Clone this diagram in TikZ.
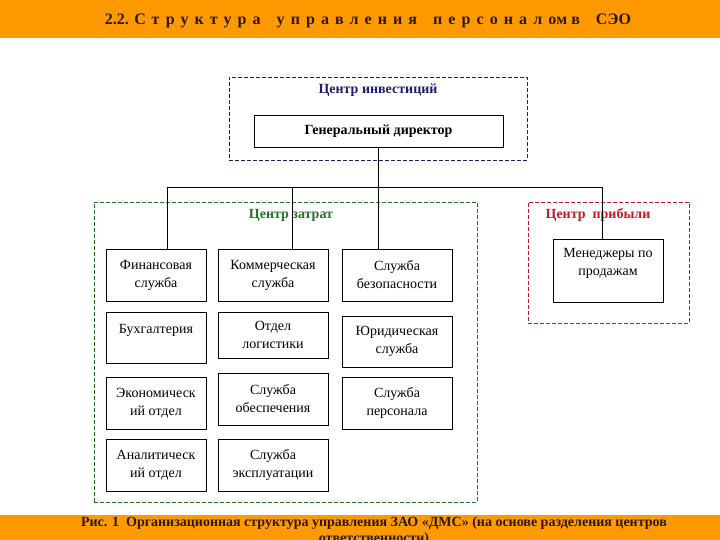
\documentclass[tikz,border=0pt]{standalone}
\usepackage{fontspec}
\setmainfont{Liberation Serif}
\definecolor{banner}{RGB}{255, 153, 0}
\definecolor{bannertext}{RGB}{45, 25, 5}
\definecolor{invest}{RGB}{30, 30, 110}
\definecolor{cost}{RGB}{35, 115, 35}
\definecolor{profit}{RGB}{200, 25, 35}
\usetikzlibrary{positioning, calc}

\begin{document}
\begin{tikzpicture}[x=1pt, y=-1pt, every node/.style={font=\fontsize{14}{18}\selectfont},
    unit/.style={draw, line width=0.8pt, align=center, inner sep=0pt},
    frame/.style={draw, line width=0.8pt, dash pattern=on 4pt off 2pt, inner sep=0pt},
    head/.style={font=\fontsize{14}{16}\selectfont\bfseries}]
            \useasboundingbox (0,0) rectangle (720,540);
            % banners
            \fill[banner] (0,0) rectangle (720,38);
            \fill[banner] (0,515) rectangle (720,540);
            \node[font=\fontsize{16}{18}\selectfont\bfseries, text=bannertext] (title) at (368,21)
                {2.2. {\addfontfeature{LetterSpace=38}Структура\quad управления\quad персонало}м в\quad СЭО};
            \node[head, text=bannertext, align=center, anchor=north] (caption) at (374,513)
                {Рис. 1\ \ Организационная структура управления ЗАО «ДМС» (на основе разделения центров\\ответственности)};
            % responsibility centres
            \node[frame, draw=invest, minimum width=298, minimum height=83] (investframe) at (378,118.5) {};
            \node[head, text=invest] (investtitle) at (378,90) {Центр инвестиций};
            \node[frame, draw=cost, minimum width=383, minimum height=300] (costframe) at (285.5,352) {};
            \node[head, text=cost] (costtitle) at (291,215) {Центр затрат};
            \node[frame, draw=profit, minimum width=161, minimum height=121] (profitframe) at (608.5,262.5) {};
            \node[head, text=profit] (profittitle) at (598,215) {Центр\ \ прибыли};
            % units
            \node[unit, head, minimum width=249, minimum height=32] (gendir) at (378.5,131) {Генеральный директор};
            \node[unit, minimum width=100, minimum height=52] (fin) at (156,275) {Финансовая\\служба};
            \node[unit, minimum width=110, minimum height=52] (com) at (273,275) {Коммерческая\\служба};
            \node[unit, minimum width=110, minimum height=52] (sec) at (397,275) {Служба\\безопасности};
            \node[unit, minimum width=100, minimum height=51] (acc) at (156,337.5) {Бухгалтерия\\\mbox{}};
            \node[unit, minimum width=110, minimum height=46] (logi) at (273,335) {Отдел\\логистики};
            \node[unit, minimum width=110, minimum height=51] (law) at (397,341.5) {Юридическая\\служба};
            \node[unit, minimum width=100, minimum height=52] (eco) at (156,403) {Экономическ\\ий отдел};
            \node[unit, minimum width=110, minimum height=52] (supply) at (273,399) {Служба\\обеспечения};
            \node[unit, minimum width=110, minimum height=52] (staff) at (397,403) {Служба\\персонала};
            \node[unit, minimum width=100, minimum height=52] (ana) at (156,465) {Аналитическ\\ий отдел};
            \node[unit, minimum width=110, minimum height=52] (ops) at (273,465) {Служба\\эксплуатации};
            \node[unit, minimum width=110, minimum height=63] (mgr) at (608,270.5) {Менеджеры по\\продажам\\\mbox{}};
            % links
            \coordinate (bus) at ($(gendir.south)+(0,40)$);
            \draw[line width=0.8pt] (gendir.south) -- (gendir.south |- sec.north);
            \draw[line width=0.8pt] ([xshift=11]fin.north) |- (bus) -| ([xshift=-6]mgr.north);
            \draw[line width=0.8pt] ([xshift=19]com.north) -- ([xshift=19]com.north |- bus);
        \end{tikzpicture}
\end{document}
